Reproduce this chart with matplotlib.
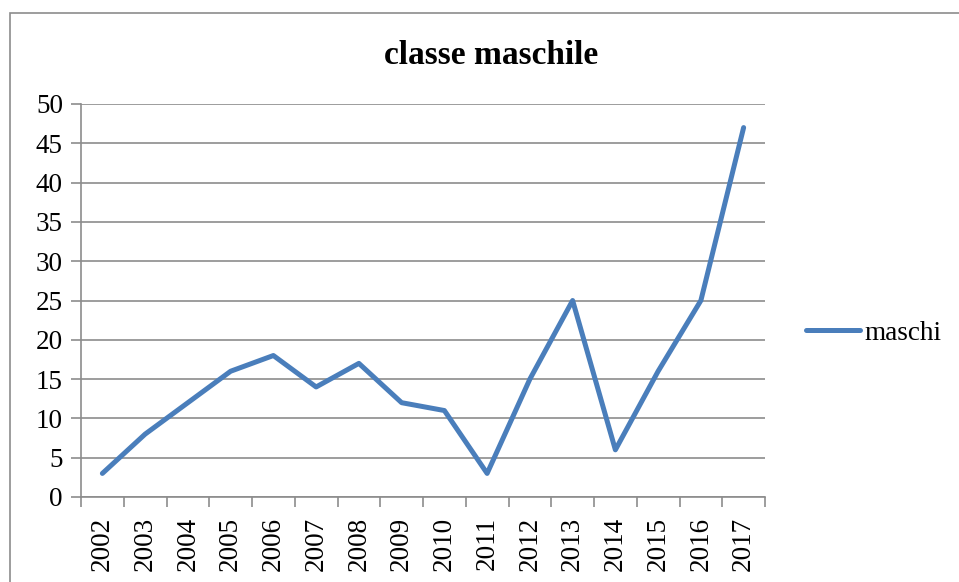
import matplotlib.pyplot as plt
from matplotlib.patches import Rectangle

plt.rcParams["font.family"] = ["Liberation Serif", "DejaVu Serif"]

# dati
anni = ["2002", "2003", "2004", "2005", "2006", "2007", "2008", "2009",
        "2010", "2011", "2012", "2013", "2014", "2015", "2016", "2017"]
maschi = [3, 8, 12, 16, 18, 14, 17, 12, 11, 3, 15, 25, 6, 16, 25, 47]

W, H = 959, 582
fig = plt.figure(figsize=(W / 100, H / 100), dpi=100)

# cornice del grafico
fig.patches.append(Rectangle((10 / W, -0.1), 1.1, 1.1 - 13 / H,
                             transform=fig.transFigure, fill=False,
                             edgecolor="#8c8c8c", linewidth=1.2))

ax = fig.add_axes([81 / W, 1 - 497 / H, (765 - 81) / W, (497 - 104) / H])

x = range(len(anni))
ax.plot(x, maschi, color="#4a7ebb", linewidth=3.6, label="maschi",
        solid_capstyle="round", solid_joinstyle="round")

ax.set_xlim(-0.5, len(anni) - 0.5)
ax.set_ylim(0, 50)
ax.set_yticks(range(0, 51, 5))
ax.set_xticks(x)
ax.set_xticklabels(anni, rotation=90, fontsize=19.5)
ax.set_xticks([i - 0.5 for i in range(len(anni) + 1)], minor=True)
ax.tick_params(axis="x", which="major", length=0, pad=14)
ax.tick_params(axis="x", which="minor", length=7, width=1.2, color="#8c8c8c")
ax.tick_params(axis="y", length=7, width=1.2, color="#8c8c8c", labelsize=19.5, pad=6)

ax.grid(axis="y", color="#8c8c8c", linewidth=1.2)
ax.set_axisbelow(True)
for s in ["top", "right"]:
    ax.spines[s].set_visible(False)
for s in ["left", "bottom"]:
    ax.spines[s].set_color("#8c8c8c")
    ax.spines[s].set_linewidth(1.2)

fig.text(491 / W, 1 - 55 / H, "classe maschile", ha="center", va="center",
         fontsize=24, fontweight="bold")

ax.legend(loc="center left", bbox_to_anchor=(806 / W, 1 - 333 / H),
          bbox_transform=fig.transFigure, frameon=False, fontsize=19.5,
          handlelength=2.0, handletextpad=0.15, borderpad=0, borderaxespad=0)

fig.savefig("out.png", dpi=100)
